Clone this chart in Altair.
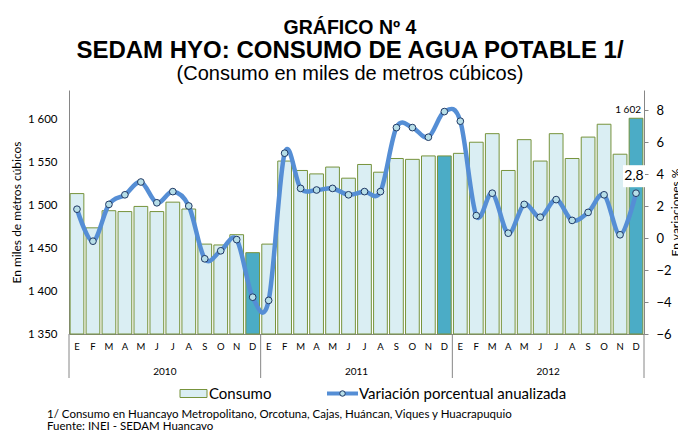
import altair as alt
import pandas as pd

# ---------------- data ----------------
MESES = ["E", "F", "M", "A", "M", "J", "J", "A", "S", "O", "N", "D"]
ANIOS = ["2010", "2011", "2012"]

CONSUMO_2010 = [1514, 1474, 1494, 1493, 1499, 1493, 1504, 1496, 1455, 1454, 1466, 1445]
CONSUMO_2011 = [1455, 1552, 1541, 1537, 1545, 1532, 1548, 1539, 1555, 1554, 1558, 1558]
CONSUMO_2012 = [1561, 1574, 1584, 1541, 1577, 1552, 1584, 1555, 1580, 1595, 1560, 1602]

VAR_2010 = [1.8, -0.2, 2.1, 2.7, 3.5, 2.2, 2.9, 2.0, -1.3, -0.8, -0.1, -3.7]
VAR_2011 = [-3.9, 5.3, 3.1, 3.0, 3.1, 2.7, 2.9, 2.9, 6.9, 6.9, 6.3, 7.9]
VAR_2012 = [7.3, 1.4, 2.8, 0.3, 2.1, 1.3, 2.4, 1.1, 1.6, 2.7, 0.2, 2.8]

TITULO_1 = "GRÁFICO Nº 4"
TITULO_2 = "SEDAM HYO: CONSUMO DE AGUA POTABLE 1/"
SUBTITULO = "(Consumo en miles de metros cúbicos)"
NOTA_1 = "1/ Consumo en Huancayo Metropolitano, Orcotuna, Cajas, Huáncan, Viques y Huacrapuquio"
NOTA_2 = "Fuente: INEI - SEDAM Huancavo"
EJE_IZQ = "En miles de métros cúbicos"
EJE_DER = "En variaciones %"
SERIE_BARRAS = "Consumo"
SERIE_LINEA = "Variación porcentual anualizada"

LEFT_TICKS = [1350, 1400, 1450, 1500, 1550, 1600]
RIGHT_TICKS = [-6, -4, -2, 0, 2, 4, 6, 8]

# ---------------- table ----------------
consumo = CONSUMO_2010 + CONSUMO_2011 + CONSUMO_2012
variacion = VAR_2010 + VAR_2011 + VAR_2012
rows = []
for i, (c, v) in enumerate(zip(consumo, variacion)):
    rows.append({
        "idx": i,
        "x0": i - 0.43,
        "x1": i + 0.43,
        "base": LEFT_TICKS[0],
        "consumo": c,
        "variacion": v,
        "mes": MESES[i % 12],
        "anio": ANIOS[i // 12],
        "tipo": "Dic" if i % 12 == 11 else SERIE_BARRAS,
        "etq_c": f"{c:,}".replace(",", " "),
        "etq_v": f"{v:.1f}".replace(".", ","),
    })
df = pd.DataFrame(rows)
last = df.iloc[[-1]]

years = pd.DataFrame({"anio": ANIOS, "mid": [12 * k + 5.5 for k in range(len(ANIOS))]})
seps = pd.DataFrame({"pos": [12 * k - 0.5 for k in range(len(ANIOS) + 1)]})
one = pd.DataFrame({"t": [0]})

W, H = 575, 244
FONT = "Lato"
TFONT = "Liberation Sans"
GRAY = "#868686"
FILL_C = "#DAEEF3"
FILL_D = "#4BACC6"
EDGE = "#77933C"
LINE_C = "#558ED5"
PT_FILL = "#B7DEE8"
PT_EDGE = "#1F3864"

xscale = alt.Scale(domain=[-0.5, 35.5], nice=False, zero=False)
yl_scale = alt.Scale(domain=[1350, 1635], nice=False, zero=False)
yr_scale = alt.Scale(domain=[-6, 9.25], nice=False, zero=False)

x_axis = alt.Axis(labels=False, ticks=False, grid=False, domainColor=GRAY, title=None)
yl_axis = alt.Axis(
    values=LEFT_TICKS, orient="left", grid=False, ticks=False, domainColor=GRAY,
    labelExpr="replace(format(datum.value, ','), ',', ' ')", labelOverlap=False,
    labelFont=FONT, labelFontSize=11.5, labelColor="#000000", labelPadding=12,
    title=EJE_IZQ, titleFont=FONT, titleFontSize=12, titleFontWeight="normal",
    titleColor="#000000", titleX=-53, titleY=H / 2, titleBaseline="middle")
yr_axis = alt.Axis(
    values=RIGHT_TICKS, orient="right", grid=False, ticks=True, tickSize=4, tickColor=GRAY,
    domainColor=GRAY, labelFont=FONT, labelFontSize=13, labelColor="#000000", labelPadding=8,
    labelOverlap=False,
    title=EJE_DER, titleFont=FONT, titleFontSize=12, titleFontWeight="normal",
    titleColor="#000000", titleAngle=270, titleX=31, titleY=H / 2, titleBaseline="middle")

bars = alt.Chart(df).mark_rect(stroke=EDGE, strokeWidth=1).encode(
    x=alt.X("x0:Q", scale=xscale, axis=x_axis),
    x2="x1:Q",
    y=alt.Y("consumo:Q", scale=yl_scale, axis=yl_axis),
    y2="base:Q",
    fill=alt.Fill("tipo:N", scale=alt.Scale(domain=[SERIE_BARRAS, "Dic"], range=[FILL_C, FILL_D]),
                  legend=None),
)

lbl_c = alt.Chart(last).mark_text(align="right", baseline="bottom", dx=5, dy=-3,
                                  font=FONT, fontSize=10, color="#000000").encode(
    x=alt.X("idx:Q", scale=xscale, axis=x_axis),
    y=alt.Y("consumo:Q", scale=yl_scale, axis=yl_axis),
    text="etq_c:N",
)

mes_txt = alt.Chart(df).mark_text(font=FONT, fontSize=9.5, color="#000000", baseline="middle").encode(
    x=alt.X("idx:Q", scale=xscale, axis=x_axis),
    y=alt.value(H + 13),
    text="mes:N",
)

sep = alt.Chart(seps).mark_rule(color=GRAY, strokeWidth=1).encode(
    x=alt.X("pos:Q", scale=xscale, axis=x_axis),
    y=alt.value(H), y2=alt.value(H + 44),
)

yr_txt = alt.Chart(years).mark_text(font=FONT, fontSize=10, color="#000000", baseline="middle").encode(
    x=alt.X("mid:Q", scale=xscale, axis=x_axis),
    y=alt.value(H + 38),
    text="anio:N",
)

def txt(s, x, y, size, weight="normal", font=FONT, align="center", baseline="alphabetic"):
    return alt.Chart(one).mark_text(text=s, font=font, fontSize=size, fontWeight=weight,
                                    align=align, baseline=baseline, color="#000000").encode(
        x=alt.value(x), y=alt.value(y))

titles = [
    txt(TITULO_1, 281, -56, 19.5, "bold", TFONT),
    txt(TITULO_2, 281, -32, 24, "bold", TFONT),
    txt(SUBTITULO, 281, -10, 20, "normal", TFONT),
    txt(NOTA_1, -22, 328, 11.5, align="left"),
    txt(NOTA_2, -22, 340, 11.5, align="left"),
]

# legend (drawn as marks below the plot)
LEG_Y = 303.5
leg_box = alt.Chart(one).mark_rect(fill=FILL_C, stroke=EDGE, strokeWidth=1).encode(
    x=alt.value(111), x2=alt.value(138), y=alt.value(LEG_Y - 4), y2=alt.value(LEG_Y + 4))
leg_line = alt.Chart(one).mark_rule(color=LINE_C, strokeWidth=4).encode(
    x=alt.value(258), x2=alt.value(289), y=alt.value(LEG_Y))
leg_pt = alt.Chart(one).mark_point(filled=True, fill=PT_FILL, stroke=PT_EDGE, strokeWidth=1,
                                   size=30, opacity=1).encode(
    x=alt.value(273.5), y=alt.value(LEG_Y))
leg_txt = [
    txt(SERIE_BARRAS, 140, LEG_Y, 15, align="left", baseline="middle"),
    txt(SERIE_LINEA, 290, LEG_Y, 15, align="left", baseline="middle"),
]

left_group = alt.layer(bars, lbl_c, mes_txt, sep, yr_txt, *titles,
                       leg_box, leg_line, leg_pt, *leg_txt)

line = alt.Chart(df).mark_line(interpolate="cardinal", strokeWidth=4.5, strokeCap="round",
                               color=LINE_C).encode(
    x=alt.X("idx:Q", scale=xscale, axis=x_axis),
    y=alt.Y("variacion:Q", scale=yr_scale, axis=yr_axis),
)

pts = alt.Chart(df).mark_point(filled=True, fill=PT_FILL, stroke=PT_EDGE, strokeWidth=1,
                               size=45, opacity=1).encode(
    x=alt.X("idx:Q", scale=xscale, axis=x_axis),
    y=alt.Y("variacion:Q", scale=yr_scale, axis=yr_axis),
)

box = alt.Chart(last).mark_point(shape="square", filled=True, fill="#FFFFFF", size=484,
                                 opacity=1, strokeWidth=0, xOffset=-2, yOffset=-17).encode(
    x=alt.X("idx:Q", scale=xscale, axis=x_axis),
    y=alt.Y("variacion:Q", scale=yr_scale, axis=yr_axis),
)
lbl_v = alt.Chart(last).mark_text(font=FONT, fontSize=14, color="#000000", baseline="middle",
                                  dx=-2, dy=-17).encode(
    x=alt.X("idx:Q", scale=xscale, axis=x_axis),
    y=alt.Y("variacion:Q", scale=yr_scale, axis=yr_axis),
    text="etq_v:N",
)

right_group = alt.layer(line, pts, box, lbl_v)

chart = alt.layer(left_group, right_group).resolve_scale(
    y="independent"
).properties(
    width=W, height=H,
    autosize=alt.AutoSizeParams(type="none"),
    padding={"left": 61, "top": 82, "right": 34, "bottom": 97},
    background="#FFFFFF",
).configure_view(stroke=None)

chart.save("out.html", embed_options={"renderer": "svg", "actions": False})
